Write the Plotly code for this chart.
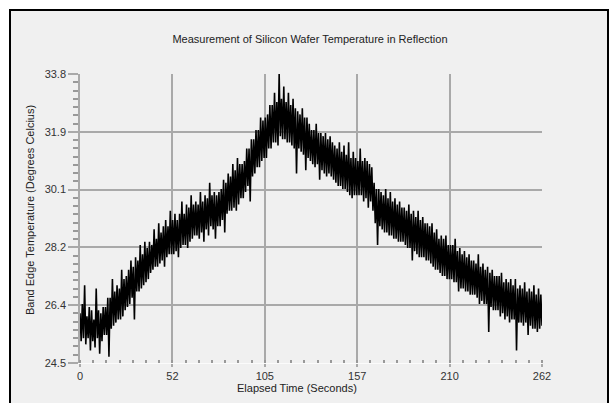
import numpy as np
import plotly.graph_objects as go

# Band-edge temperature readings (degrees C), in time order
temp_values = [
    26.1, 25.2, 26.4, 25.3, 27.0, 25.1, 26.0, 25.3, 26.3, 24.9, 26.2, 25.2, 25.9, 25.0, 26.9, 25.3, 26.2, 24.8, 26.1, 25.2,
    26.3, 25.4, 26.3, 25.4, 26.6, 24.7, 26.6, 25.6, 27.2, 25.7, 26.8, 25.8, 27.0, 25.9, 26.9, 25.9, 27.5, 26.0, 27.2, 26.2,
    27.3, 26.3, 27.5, 26.4, 27.8, 26.6, 27.6, 25.9, 27.9, 26.8, 27.8, 26.8, 28.3, 26.9, 28.0, 27.0, 28.4, 27.1, 28.2, 27.2,
    28.4, 27.4, 28.3, 27.5, 28.8, 27.6, 28.5, 27.6, 29.0, 27.7, 28.7, 27.8, 28.9, 27.6, 29.1, 27.9, 28.9, 28.0, 29.4, 28.0,
    29.1, 28.0, 29.3, 28.1, 29.1, 27.9, 29.3, 28.2, 29.7, 28.3, 29.3, 28.3, 29.6, 28.2, 29.5, 28.4, 29.9, 28.5, 29.6, 28.6,
    29.7, 28.6, 29.6, 28.5, 30.0, 28.7, 29.7, 28.4, 29.9, 28.8, 29.8, 28.6, 30.3, 28.9, 29.9, 28.8, 30.0, 28.5, 29.9, 28.9,
    30.0, 28.9, 30.1, 29.1, 30.4, 28.7, 30.3, 29.3, 30.6, 29.4, 30.5, 29.4, 30.9, 29.5, 30.7, 29.4, 31.1, 29.6, 30.9, 29.8,
    30.9, 29.8, 31.0, 30.0, 31.4, 30.2, 31.4, 29.7, 31.7, 30.5, 31.7, 30.6, 32.0, 30.8, 32.0, 30.8, 32.4, 31.0, 32.3, 31.1,
    32.4, 31.1, 32.5, 31.4, 32.8, 31.4, 32.8, 31.6, 33.2, 31.6, 32.9, 31.5, 33.8, 31.8, 33.0, 31.7, 33.4, 31.7, 32.9, 31.6,
    33.2, 31.6, 32.8, 31.5, 33.0, 31.4, 32.7, 30.6, 32.6, 31.4, 32.5, 31.3, 32.7, 31.2, 32.4, 30.7, 32.4, 31.1, 32.2, 31.0,
    32.0, 30.9, 32.0, 30.8, 32.2, 30.9, 31.9, 30.4, 31.9, 30.7, 31.8, 30.6, 31.9, 30.5, 31.7, 30.6, 31.8, 30.5, 31.6, 30.4,
    31.5, 30.3, 31.4, 30.2, 31.6, 30.2, 31.3, 30.1, 31.5, 30.1, 31.2, 30.0, 31.6, 29.9, 31.1, 29.8, 31.3, 29.9, 31.1, 29.9,
    31.0, 29.9, 31.4, 29.9, 31.0, 29.7, 31.1, 29.8, 31.0, 29.5, 30.9, 29.7, 30.8, 29.4, 30.3, 29.0, 30.1, 28.3, 30.1, 28.9,
    30.0, 28.8, 29.9, 28.7, 30.1, 28.7, 29.8, 28.6, 30.0, 28.6, 29.7, 28.5, 29.8, 28.5, 29.6, 28.4, 29.7, 28.4, 29.5, 28.4,
    29.5, 28.3, 29.4, 28.2, 29.6, 28.2, 29.3, 27.8, 29.4, 28.1, 29.2, 28.0, 29.4, 27.9, 29.1, 27.9, 29.2, 27.9, 29.0, 27.8,
    29.0, 27.8, 28.9, 27.7, 29.0, 27.6, 28.7, 27.5, 28.8, 27.5, 28.5, 27.4, 28.6, 27.3, 28.5, 27.3, 28.6, 27.2, 28.3, 27.2,
    28.3, 27.2, 28.3, 27.1, 28.5, 27.1, 28.1, 26.8, 28.2, 26.9, 28.0, 26.9, 28.1, 26.8, 27.9, 26.8, 28.0, 26.7, 27.8, 26.7,
    27.8, 26.7, 27.7, 26.6, 28.0, 26.4, 27.6, 26.5, 27.7, 26.4, 27.5, 26.4, 27.6, 25.5, 27.4, 26.3, 27.5, 26.2, 27.3, 26.2,
    27.3, 26.2, 27.3, 26.0, 27.4, 26.1, 27.1, 25.9, 27.2, 26.0, 27.1, 25.8, 27.2, 25.9, 27.0, 25.9, 27.2, 24.9, 26.9, 25.8,
    27.0, 25.8, 26.9, 25.7, 27.1, 25.8, 26.8, 25.4, 26.9, 25.7, 26.8, 25.6, 27.0, 25.6, 26.7, 25.5, 26.9, 25.6, 26.7, 25.7,
]
time_start, time_end = 0, 262
# evenly spaced sample times (seconds)
time_values = np.linspace(time_start, time_end, len(temp_values))

x_tickvals = [0, 52.4, 104.8, 157.2, 209.6, 262]
x_ticktext = ["0", "52", "105", "157", "210", "262"]
y_tickvals = [24.5, 26.36, 28.22, 30.08, 31.94, 33.8]
y_ticktext = ["24.5", "26.4", "28.2", "30.1", "31.9", "33.8"]

title_text = "Measurement of Silicon Wafer Temperature in Reflection"
x_title = "Elapsed Time (Seconds)"
y_title = "Band Edge Temperature (Degrees Celcius)"

W, H = 615, 403
L, R, T, B = 80, 73, 74, 40
pw, ph = W - L - R, H - T - B

def px_x(px):
    return (px - L) / pw

def px_y(py):
    return (H - B - py) / ph

FONT = "Liberation Sans, Arial, sans-serif"
GRID = "#a9a9a9"
BG = "#f0f0f0"

fig = go.Figure()
fig.add_trace(go.Scatter(
    x=time_values, y=temp_values, mode="lines",
    line=dict(color="#000000", width=1.6),
    showlegend=False, hoverinfo="skip",
))

fig.update_layout(
    width=W, height=H,
    margin=dict(l=L, r=R, t=T, b=B, pad=0),
    paper_bgcolor="white",
    plot_bgcolor=BG,
    font=dict(family=FONT, size=11, color="#333333"),
    title=dict(text=title_text, x=0.504, xanchor="center", y=1 - 39 / H, yanchor="middle",
               font=dict(family=FONT, size=11, color="#222222")),
    xaxis=dict(
        range=[time_start, time_end], tickmode="array", tickvals=x_tickvals, ticktext=x_ticktext,
        showgrid=True, gridcolor=GRID, gridwidth=1.5, zeroline=False,
        ticks="outside", ticklen=3, tickcolor=GRID, tickwidth=1.5,
        ticklabelstandoff=0,
        showline=True, linecolor="#fbfbfb", linewidth=1,
        tickfont=dict(family=FONT, size=11, color="#333333"),
        minor=dict(tick0=0, dtick=262 / 35, ticks="inside", ticklen=3, tickcolor="#999999", showgrid=False),
    ),
    yaxis=dict(
        range=[24.5, 33.8], tickmode="array", tickvals=y_tickvals, ticktext=y_ticktext,
        showgrid=True, gridcolor=GRID, gridwidth=1.5, zeroline=False,
        ticks="outside", ticklen=10, tickcolor=GRID, tickwidth=1.5,
        showline=True, linecolor=GRID, linewidth=1.5,
        tickfont=dict(family=FONT, size=11, color="#333333"),
        minor=dict(tick0=24.5, dtick=9.3 / 35, ticks="outside", ticklen=5, tickcolor="#999999", showgrid=False),
    ),
    shapes=[dict(
        type="rect", xref="paper", yref="paper", layer="below",
        x0=px_x(10), x1=px_x(608), y0=px_y(410), y1=px_y(10),
        line=dict(color="black", width=2), fillcolor=BG,
    )],
    annotations=[
        dict(text=x_title, xref="paper", yref="paper", x=px_x(297), y=px_y(388),
             xanchor="center", yanchor="middle", showarrow=False,
             font=dict(family=FONT, size=11, color="#222222")),
        dict(text=y_title, xref="paper", yref="paper", x=px_x(30), y=px_y(210),
             xanchor="center", yanchor="middle", showarrow=False, textangle=-90,
             font=dict(family=FONT, size=11, color="#222222")),
    ],
)

fig.write_html("out.html")
